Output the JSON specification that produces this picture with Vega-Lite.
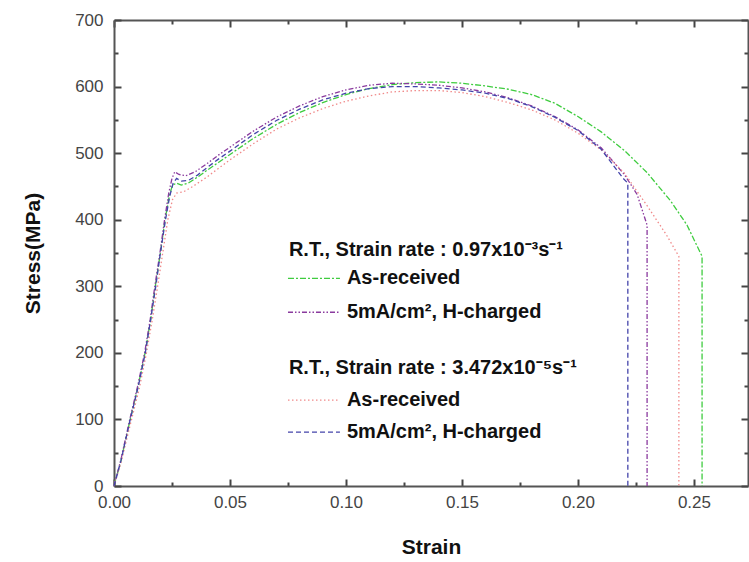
{
  "$schema": "https://vega.github.io/schema/vega-lite/v6.json",
  "width": 634,
  "height": 466,
  "autosize": {"type": "none"},
  "padding": {"left": 114, "top": 20, "right": 1, "bottom": 76},
  "background": "white",
  "datasets": {
    "curves": [
      {"s":"g","i":0,"x":0,"y":0},{"s":"g","i":1,"x":0.003,"y":38},{"s":"g","i":2,"x":0.007,"y":100},{"s":"g","i":3,"x":0.0104,"y":150},{"s":"g","i":4,"x":0.0134,"y":200},{"s":"g","i":5,"x":0.0158,"y":250},{"s":"g","i":6,"x":0.0178,"y":300},{"s":"g","i":7,"x":0.02,"y":350},{"s":"g","i":8,"x":0.022,"y":400},{"s":"g","i":9,"x":0.0238,"y":435},{"s":"g","i":10,"x":0.0252,"y":452},{"s":"g","i":11,"x":0.027,"y":455},{"s":"g","i":12,"x":0.029,"y":452},{"s":"g","i":13,"x":0.032,"y":455},{"s":"g","i":14,"x":0.036,"y":464},{"s":"g","i":15,"x":0.04,"y":474},{"s":"g","i":16,"x":0.045,"y":486},{"s":"g","i":17,"x":0.05,"y":498},{"s":"g","i":18,"x":0.06,"y":522},{"s":"g","i":19,"x":0.07,"y":543},{"s":"g","i":20,"x":0.08,"y":561},{"s":"g","i":21,"x":0.09,"y":576},{"s":"g","i":22,"x":0.10,"y":588},{"s":"g","i":23,"x":0.11,"y":597},{"s":"g","i":24,"x":0.12,"y":603},{"s":"g","i":25,"x":0.13,"y":606},{"s":"g","i":26,"x":0.14,"y":607},{"s":"g","i":27,"x":0.15,"y":605},{"s":"g","i":28,"x":0.16,"y":601},{"s":"g","i":29,"x":0.17,"y":596},{"s":"g","i":30,"x":0.18,"y":588},{"s":"g","i":31,"x":0.19,"y":575},{"s":"g","i":32,"x":0.20,"y":555},{"s":"g","i":33,"x":0.21,"y":532},{"s":"g","i":34,"x":0.22,"y":504},{"s":"g","i":35,"x":0.23,"y":470},{"s":"g","i":36,"x":0.24,"y":428},{"s":"g","i":37,"x":0.247,"y":392},{"s":"g","i":38,"x":0.2535,"y":345},{"s":"g","i":39,"x":0.2535,"y":0},
      {"s":"p","i":0,"x":0,"y":0},{"s":"p","i":1,"x":0.003,"y":40},{"s":"p","i":2,"x":0.0068,"y":100},{"s":"p","i":3,"x":0.0102,"y":150},{"s":"p","i":4,"x":0.0132,"y":200},{"s":"p","i":5,"x":0.0156,"y":250},{"s":"p","i":6,"x":0.0176,"y":300},{"s":"p","i":7,"x":0.0198,"y":350},{"s":"p","i":8,"x":0.0218,"y":400},{"s":"p","i":9,"x":0.0236,"y":440},{"s":"p","i":10,"x":0.025,"y":462},{"s":"p","i":11,"x":0.0262,"y":472},{"s":"p","i":12,"x":0.028,"y":468},{"s":"p","i":13,"x":0.031,"y":466},{"s":"p","i":14,"x":0.035,"y":472},{"s":"p","i":15,"x":0.04,"y":484},{"s":"p","i":16,"x":0.045,"y":497},{"s":"p","i":17,"x":0.05,"y":509},{"s":"p","i":18,"x":0.06,"y":533},{"s":"p","i":19,"x":0.07,"y":554},{"s":"p","i":20,"x":0.08,"y":571},{"s":"p","i":21,"x":0.09,"y":585},{"s":"p","i":22,"x":0.10,"y":595},{"s":"p","i":23,"x":0.11,"y":602},{"s":"p","i":24,"x":0.12,"y":605},{"s":"p","i":25,"x":0.13,"y":604},{"s":"p","i":26,"x":0.14,"y":602},{"s":"p","i":27,"x":0.15,"y":598},{"s":"p","i":28,"x":0.16,"y":592},{"s":"p","i":29,"x":0.17,"y":583},{"s":"p","i":30,"x":0.18,"y":571},{"s":"p","i":31,"x":0.19,"y":555},{"s":"p","i":32,"x":0.20,"y":535},{"s":"p","i":33,"x":0.21,"y":508},{"s":"p","i":34,"x":0.22,"y":468},{"s":"p","i":35,"x":0.2255,"y":438},{"s":"p","i":36,"x":0.2298,"y":392},{"s":"p","i":37,"x":0.2298,"y":0},
      {"s":"r","i":0,"x":0,"y":0},{"s":"r","i":1,"x":0.003,"y":35},{"s":"r","i":2,"x":0.0072,"y":95},{"s":"r","i":3,"x":0.0108,"y":145},{"s":"r","i":4,"x":0.014,"y":200},{"s":"r","i":5,"x":0.0165,"y":250},{"s":"r","i":6,"x":0.0188,"y":300},{"s":"r","i":7,"x":0.021,"y":350},{"s":"r","i":8,"x":0.0232,"y":400},{"s":"r","i":9,"x":0.0252,"y":430},{"s":"r","i":10,"x":0.027,"y":440},{"s":"r","i":11,"x":0.03,"y":442},{"s":"r","i":12,"x":0.034,"y":450},{"s":"r","i":13,"x":0.04,"y":464},{"s":"r","i":14,"x":0.045,"y":477},{"s":"r","i":15,"x":0.05,"y":490},{"s":"r","i":16,"x":0.06,"y":514},{"s":"r","i":17,"x":0.07,"y":536},{"s":"r","i":18,"x":0.08,"y":553},{"s":"r","i":19,"x":0.09,"y":567},{"s":"r","i":20,"x":0.10,"y":578},{"s":"r","i":21,"x":0.11,"y":586},{"s":"r","i":22,"x":0.12,"y":592},{"s":"r","i":23,"x":0.13,"y":594},{"s":"r","i":24,"x":0.14,"y":594},{"s":"r","i":25,"x":0.15,"y":591},{"s":"r","i":26,"x":0.16,"y":585},{"s":"r","i":27,"x":0.17,"y":576},{"s":"r","i":28,"x":0.18,"y":565},{"s":"r","i":29,"x":0.19,"y":550},{"s":"r","i":30,"x":0.20,"y":530},{"s":"r","i":31,"x":0.21,"y":505},{"s":"r","i":32,"x":0.22,"y":470},{"s":"r","i":33,"x":0.23,"y":420},{"s":"r","i":34,"x":0.238,"y":378},{"s":"r","i":35,"x":0.2435,"y":345},{"s":"r","i":36,"x":0.2435,"y":0},
      {"s":"b","i":0,"x":0,"y":0},{"s":"b","i":1,"x":0.003,"y":38},{"s":"b","i":2,"x":0.007,"y":100},{"s":"b","i":3,"x":0.0105,"y":150},{"s":"b","i":4,"x":0.0135,"y":200},{"s":"b","i":5,"x":0.0158,"y":250},{"s":"b","i":6,"x":0.018,"y":300},{"s":"b","i":7,"x":0.02,"y":350},{"s":"b","i":8,"x":0.0222,"y":400},{"s":"b","i":9,"x":0.024,"y":435},{"s":"b","i":10,"x":0.0255,"y":455},{"s":"b","i":11,"x":0.027,"y":462},{"s":"b","i":12,"x":0.029,"y":458},{"s":"b","i":13,"x":0.032,"y":459},{"s":"b","i":14,"x":0.036,"y":467},{"s":"b","i":15,"x":0.04,"y":478},{"s":"b","i":16,"x":0.045,"y":491},{"s":"b","i":17,"x":0.05,"y":503},{"s":"b","i":18,"x":0.06,"y":528},{"s":"b","i":19,"x":0.07,"y":549},{"s":"b","i":20,"x":0.08,"y":566},{"s":"b","i":21,"x":0.09,"y":580},{"s":"b","i":22,"x":0.10,"y":590},{"s":"b","i":23,"x":0.11,"y":597},{"s":"b","i":24,"x":0.12,"y":600},{"s":"b","i":25,"x":0.13,"y":600},{"s":"b","i":26,"x":0.14,"y":598},{"s":"b","i":27,"x":0.15,"y":595},{"s":"b","i":28,"x":0.16,"y":590},{"s":"b","i":29,"x":0.17,"y":582},{"s":"b","i":30,"x":0.18,"y":570},{"s":"b","i":31,"x":0.19,"y":554},{"s":"b","i":32,"x":0.20,"y":534},{"s":"b","i":33,"x":0.21,"y":506},{"s":"b","i":34,"x":0.2195,"y":462},{"s":"b","i":35,"x":0.2215,"y":455},{"s":"b","i":36,"x":0.2215,"y":0}
    ],
    "keys": [
      {"s":"g","x":0.075,"x2":0.0974,"y":312},
      {"s":"p","x":0.075,"x2":0.0974,"y":261},
      {"s":"r","x":0.075,"x2":0.0974,"y":129},
      {"s":"b","x":0.075,"x2":0.0974,"y":81}
    ],
    "labels": [
      {"t":"R.T., Strain rate : 0.97x10⁻³s⁻¹","x":0.0754,"y":354},
      {"t":"As-received","x":0.1004,"y":312},
      {"t":"5mA/cm², H-charged","x":0.1004,"y":261},
      {"t":"R.T., Strain rate : 3.472x10⁻⁵s⁻¹","x":0.0754,"y":177},
      {"t":"As-received","x":0.1004,"y":129},
      {"t":"5mA/cm², H-charged","x":0.1004,"y":81}
    ]
  },
  "resolve": {"axis": {"x": "independent", "y": "independent"}},
  "layer": [
    {
      "data": {"name": "curves"},
      "mark": {"type": "line", "strokeWidth": 1.3, "interpolate": "linear"},
      "encoding": {
        "x": {"field": "x", "type": "quantitative",
          "scale": {"domain": [0, 0.2733], "nice": false, "zero": false},
          "axis": {"orient": "bottom", "title": "Strain",
            "values": [0,0.025,0.05,0.075,0.1,0.125,0.15,0.175,0.2,0.225,0.25],
            "labelExpr": "abs(datum.value*20-round(datum.value*20))<0.001 ? format(datum.value,'.2f') : ''",
            "ticks": true,
            "tickSize": {"condition": {"test": "abs(datum.value*20-round(datum.value*20))<0.001", "value": -7}, "value": -4},
            "labelPadding": 15, "titlePadding": 26, "labelFlush": false}},
        "y": {"field": "y", "type": "quantitative",
          "scale": {"domain": [0, 700], "nice": false},
          "axis": {"orient": "left", "title": "Stress(MPa)",
            "values": [0,50,100,150,200,250,300,350,400,450,500,550,600,650,700],
            "labelExpr": "datum.value % 100 === 0 ? datum.label : ''",
            "ticks": true,
            "tickSize": {"condition": {"test": "datum.value % 100 === 0", "value": -7}, "value": -4},
            "labelPadding": 18, "titlePadding": 31}},
        "color": {"field": "s", "type": "nominal", "legend": null,
          "scale": {"domain": ["g","p","r","b"], "range": ["#3fcc3f","#8a3a9e","#f08a8a","#4444aa"]}},
        "strokeDash": {"field": "s", "type": "nominal", "legend": null,
          "scale": {"domain": ["g","p","r","b"], "range": [[6,2,2,2],[5,2,1.5,2,1.5,2],[1.5,2.5],[5,3]]}},
        "order": {"field": "i", "type": "quantitative"}
      }
    },
    {
      "data": {"name": "keys"},
      "mark": {"type": "rule", "strokeWidth": 1.3},
      "encoding": {
        "x": {"field": "x", "type": "quantitative",
          "axis": {"orient": "top", "title": null, "labels": false, "ticks": true,
            "values": [0,0.025,0.05,0.075,0.1,0.125,0.15,0.175,0.2,0.225,0.25],
            "tickSize": {"condition": {"test": "abs(datum.value*20-round(datum.value*20))<0.001", "value": -7}, "value": -4}}},
        "x2": {"field": "x2"},
        "y": {"field": "y", "type": "quantitative",
          "axis": {"orient": "right", "title": null, "labels": false, "ticks": true,
            "values": [0,50,100,150,200,250,300,350,400,450,500,550,600,650,700],
            "tickSize": {"condition": {"test": "datum.value % 100 === 0", "value": -7}, "value": -4}}},
        "color": {"field": "s", "type": "nominal", "legend": null},
        "strokeDash": {"field": "s", "type": "nominal", "legend": null}
      }
    },
    {
      "data": {"name": "labels"},
      "mark": {"type": "text", "align": "left", "baseline": "middle", "font": "Liberation Sans", "fontWeight": "bold", "fontSize": 20, "color": "#111"},
      "encoding": {
        "x": {"field": "x", "type": "quantitative", "axis": null},
        "y": {"field": "y", "type": "quantitative", "axis": null},
        "text": {"field": "t"}
      }
    }
  ],
  "config": {
    "view": {"stroke": null},
    "axis": {
      "grid": false,
      "domainColor": "#555",
      "domainWidth": 2,
      "tickColor": "#444",
      "tickWidth": 2,
      "labelFont": "Liberation Sans",
      "labelFontSize": 17,
      "labelColor": "#444",
      "titleFont": "Liberation Sans",
      "titleFontWeight": "bold",
      "titleFontSize": 21,
      "titleColor": "#111"
    }
  }
}
